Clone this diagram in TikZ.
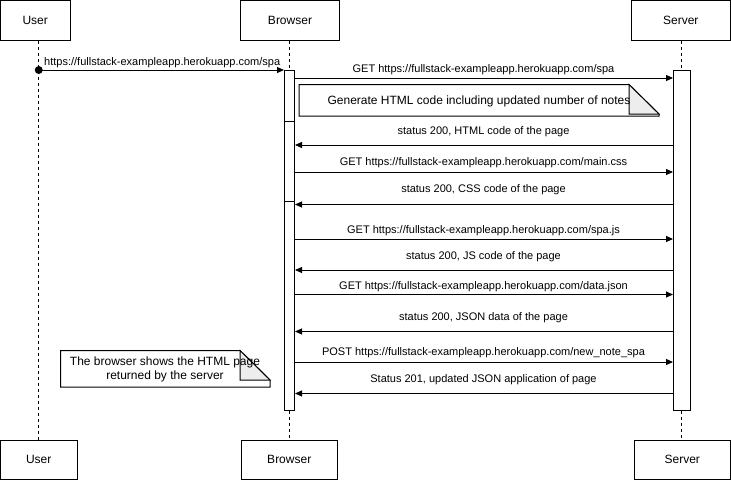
\documentclass[tikz,border=0pt]{standalone}
\usepackage{fontspec}
\setmainfont{Liberation Sans}
\usetikzlibrary{arrows.meta,calc}
\begin{document}
\begin{tikzpicture}[x=1pt,y=-1pt,
  lifebox/.style={draw,line width=1pt,fill=white,inner sep=0pt,minimum height=39.5pt,font=\fontsize{12}{14}\selectfont},
  lifeline/.style={line width=1pt,dash pattern=on 3pt off 3pt},
  actbar/.style={draw,line width=1pt,fill=white,inner sep=0pt,minimum height=340pt},
  msg/.style={line width=1pt,-{Triangle[length=7pt,width=6pt]}},
  lbl/.style={font=\fontsize{11}{13}\selectfont,inner sep=0pt},
  notetext/.style={font=\fontsize{12}{14}\selectfont,inner sep=0pt,align=center},
  notebody/.style={draw,line width=1pt,fill=white},
  notefold/.style={draw,line width=1pt,fill=black!7},
]
\useasboundingbox (0,0) rectangle (731,480);
\fill[white] (0,0) rectangle (731,480);

% lifeline heads and feet
\node[lifebox,minimum width=69.5pt] (ut) at (35.25,20.25) {User};
\node[lifebox,minimum width=99pt]   (bt) at (290,20.25) {Browser};
\node[lifebox,minimum width=99.5pt] (st) at (680.75,20.25) {Server};
\node[lifebox,minimum width=76.5pt] (ub) at (38.75,459.75) {User};
\node[lifebox,minimum width=96.5pt] (bb) at (289.25,459.75) {Browser};
\node[lifebox,minimum width=96.5pt] (sb) at (682.25,459.75) {Server};

% activation bars
\node[actbar,minimum width=10pt]   (bact) at (289.5,240) {};
\node[actbar,minimum width=16.5pt] (sact) at (681.75,240) {};

% lifelines
\draw[lifeline] (ub.north |- ut.south) -- (ub.north);
\draw[lifeline] (bact.north |- bt.south) -- (bact.north);
\draw[lifeline] (bact.south) -- (bact.south |- bb.north);
\draw[lifeline] (sact.north |- st.south) -- (sact.north);
\draw[lifeline] (sact.south) -- (sact.south |- sb.north);

% dividers in browser bar
\coordinate (d1) at (0,121);
\coordinate (d2) at (0,201);
\draw[line width=1pt] (bact.west |- d1) -- (bact.east |- d1);
\draw[line width=1pt] (bact.west |- d2) -- (bact.east |- d2);

% message heights
\coordinate (y0) at (0,70);
\coordinate (y1) at (0,78);
\coordinate (y2) at (0,145);
\coordinate (y3) at (0,172);
\coordinate (y4) at (0,204.5);
\coordinate (y5) at (0,239);
\coordinate (y6) at (0,270);
\coordinate (y7) at (0,294.5);
\coordinate (y8) at (0,331.5);
\coordinate (y9) at (0,362);
\coordinate (y10) at (0,393.5);

% user -> browser
\coordinate (ustart) at (ub.north |- y0);
\fill (ustart) circle (4pt);
\draw[msg] (ustart) -- (bact.west |- y0);
\node[lbl,anchor=west] at (44,63) {https://fullstack-exampleapp.herokuapp.com/spa};

% browser <-> server
\draw[msg] (bact.east |- y1) -- (sact.west |- y1);
\node[lbl] at (483.5,70) {GET https://fullstack-exampleapp.herokuapp.com/spa};

\draw[msg] (sact.west |- y2) -- (bact.east |- y2);
\node[lbl] at (483.5,131.5) {status 200, HTML code of the page};

\draw[msg] (bact.east |- y3) -- (sact.west |- y3);
\node[lbl] at (483.5,163) {GET https://fullstack-exampleapp.herokuapp.com/main.css};

\draw[msg] (sact.west |- y4) -- (bact.east |- y4);
\node[lbl] at (483.5,190) {status 200, CSS code of the page};

\draw[msg] (bact.east |- y5) -- (sact.west |- y5);
\node[lbl] at (483.5,231) {GET https://fullstack-exampleapp.herokuapp.com/spa.js};

\draw[msg] (sact.west |- y6) -- (bact.east |- y6);
\node[lbl] at (483.5,257) {status 200, JS code of the page};

\draw[msg] (bact.east |- y7) -- (sact.west |- y7);
\node[lbl] at (483.5,287) {GET https://fullstack-exampleapp.herokuapp.com/data.json};

\draw[msg] (sact.west |- y8) -- (bact.east |- y8);
\node[lbl] at (483.5,318) {status 200, JSON data of the page};

\draw[msg] (bact.east |- y9) -- (sact.west |- y9);
\node[lbl] at (483.5,353) {POST https://fullstack-exampleapp.herokuapp.com/new\_note\_spa};

\draw[msg] (sact.west |- y10) -- (bact.east |- y10);
\node[lbl] at (483.5,380) {Status 201, updated JSON application of page};

% note: generate HTML
\draw[notebody] (299,84.5) -- (629,84.5) -- (659,114) -- (659,116) -- (299,116) -- cycle;
\draw[notefold] (629,84.5) -- (629,114) -- (659,114) -- cycle;
\node[notetext] (n1) at (479,101) {Generate HTML code including updated number of notes};

% note: browser shows
\draw[notebody] (60.5,350.5) -- (240,350.5) -- (270,380) -- (270,387) -- (60.5,387) -- cycle;
\draw[notefold] (240,350.5) -- (240,380) -- (270,380) -- cycle;
\node[notetext] (n2) at (165,369.5) {The browser shows the HTML page\\returned by the server};
\end{tikzpicture}
\end{document}
